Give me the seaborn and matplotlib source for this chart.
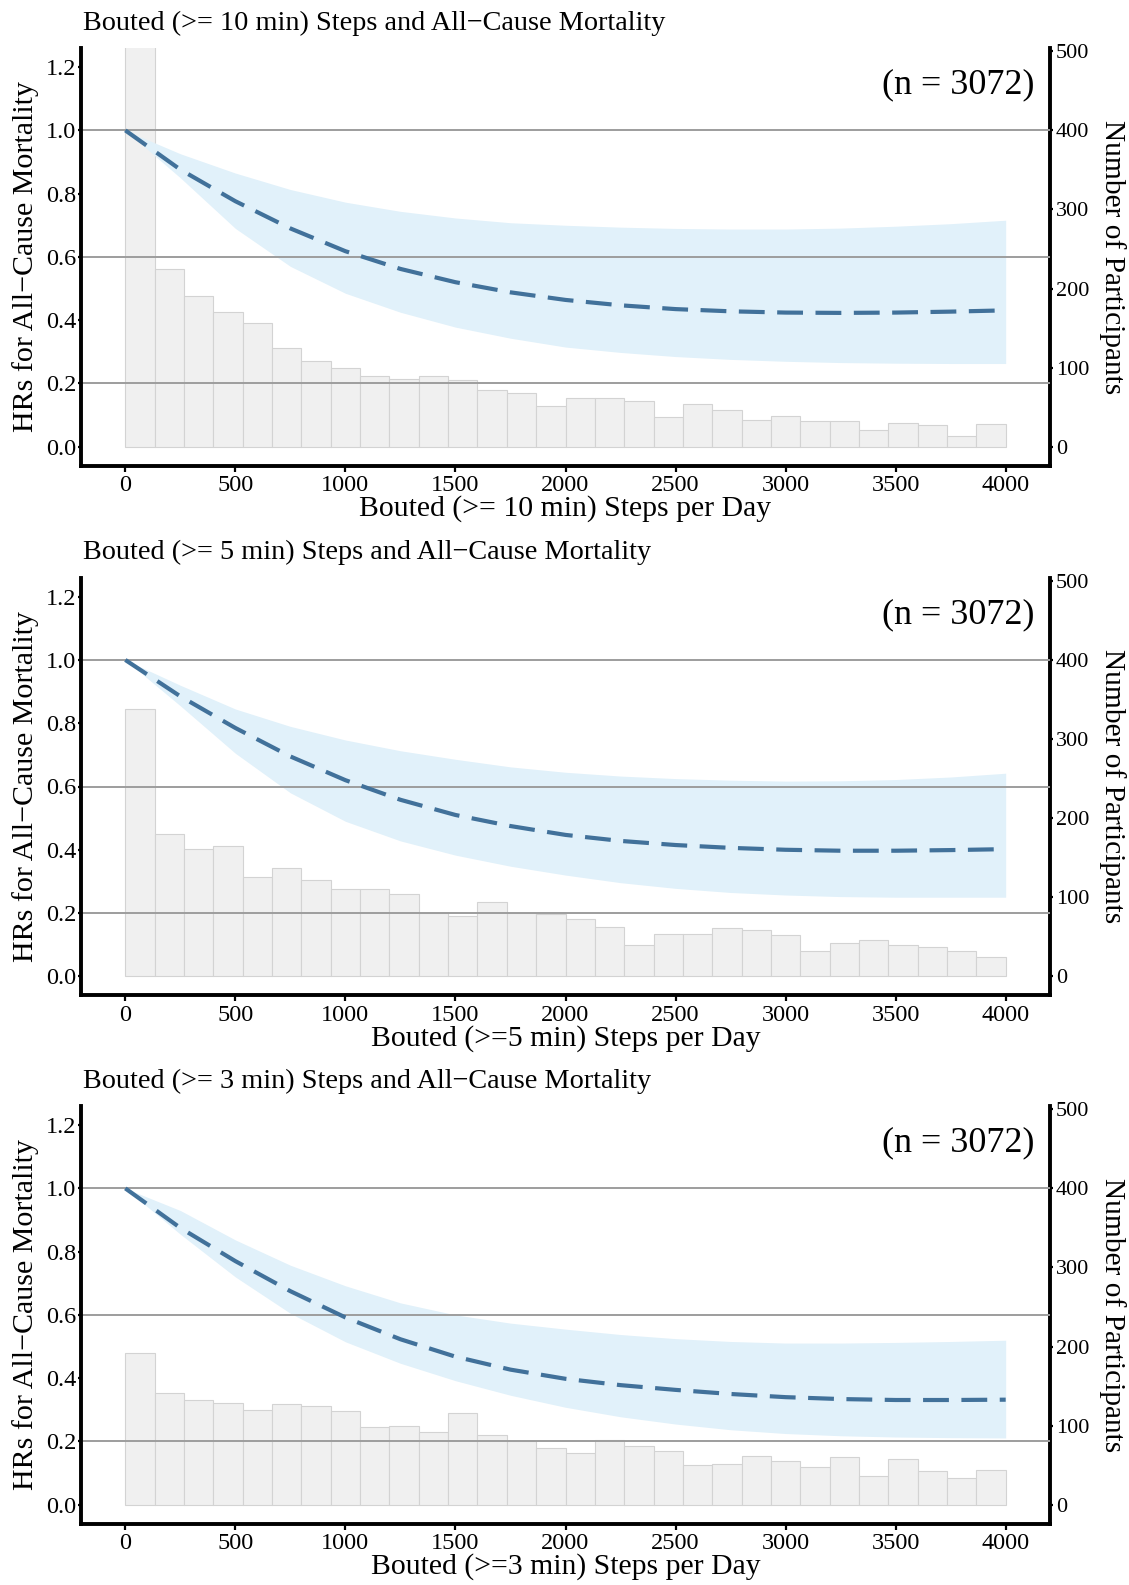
import numpy as np
import pandas as pd
import matplotlib
matplotlib.use("Agg")
import matplotlib.pyplot as plt
from matplotlib.ticker import FormatStrFormatter
import seaborn as sns

# ---------------- data ----------------
steps_grid = [0, 250, 500, 750, 1000, 1250, 1500, 1750, 2000, 2250, 2500,
              2750, 3000, 3250, 3500, 3750, 4000]

hr_10 = [1.0, 0.876, 0.776, 0.69, 0.618, 0.562, 0.52, 0.488, 0.464, 0.447, 0.435,
         0.428, 0.424, 0.423, 0.424, 0.427, 0.431]
up_10 = [1.0, 0.926, 0.865, 0.813, 0.773, 0.744, 0.723, 0.708, 0.70, 0.694, 0.69,
         0.688, 0.688, 0.691, 0.697, 0.705, 0.716]
lo_10 = [1.0, 0.85, 0.69, 0.57, 0.485, 0.425, 0.378, 0.343, 0.315, 0.298, 0.285,
         0.276, 0.27, 0.266, 0.264, 0.263, 0.263]

hr_5 = [1.0, 0.885, 0.785, 0.695, 0.62, 0.558, 0.51, 0.475, 0.447, 0.428, 0.415,
        0.406, 0.40, 0.397, 0.397, 0.399, 0.402]
up_5 = [1.0, 0.92, 0.845, 0.79, 0.747, 0.713, 0.686, 0.662, 0.645, 0.633, 0.625,
        0.62, 0.617, 0.618, 0.622, 0.63, 0.642]
lo_5 = [1.0, 0.855, 0.705, 0.58, 0.49, 0.428, 0.383, 0.348, 0.32, 0.296, 0.278,
        0.265, 0.257, 0.252, 0.25, 0.25, 0.25]

hr_3 = [1.0, 0.875, 0.77, 0.675, 0.592, 0.523, 0.468, 0.427, 0.398, 0.378, 0.363,
        0.35, 0.34, 0.334, 0.331, 0.331, 0.332]
up_3 = [1.0, 0.93, 0.837, 0.757, 0.692, 0.638, 0.60, 0.574, 0.555, 0.538, 0.525,
        0.516, 0.511, 0.511, 0.513, 0.516, 0.52]
lo_3 = [1.0, 0.855, 0.72, 0.605, 0.515, 0.447, 0.392, 0.346, 0.308, 0.278, 0.255,
        0.237, 0.225, 0.218, 0.214, 0.212, 0.211]

counts_10 = [640, 225, 190, 170, 157, 125, 109, 100, 90, 85, 90, 84, 72, 68, 52,
             61, 62, 58, 37, 54, 47, 34, 39, 33, 33, 21, 30, 27, 14, 29]
counts_5 = [338, 180, 161, 165, 125, 137, 122, 111, 111, 104, 80, 76, 94, 80, 79,
            72, 62, 40, 54, 54, 61, 59, 52, 32, 42, 46, 39, 37, 32, 24]
counts_3 = [192, 141, 133, 129, 120, 127, 125, 118, 98, 100, 92, 116, 88, 81, 72,
            66, 82, 74, 68, 50, 52, 62, 55, 48, 60, 36, 58, 42, 34, 44]

titles = ["Bouted (>= 10 min) Steps and All\u2212Cause Mortality",
          "Bouted (>= 5 min) Steps and All\u2212Cause Mortality",
          "Bouted (>= 3 min) Steps and All\u2212Cause Mortality"]
xlabels = ["Bouted (>= 10 min) Steps per Day",
           "Bouted (>=5 min) Steps per Day",
           "Bouted (>=3 min) Steps per Day"]
n_label = "(n = 3072)"
ylabel_left = "HRs for All\u2212Cause Mortality"
ylabel_right = "Number of Participants"
hr_ticks = [0.0, 0.2, 0.4, 0.6, 0.8, 1.0, 1.2]
count_ticks = [0, 100, 200, 300, 400, 500]
step_ticks = [0, 500, 1000, 1500, 2000, 2500, 3000, 3500, 4000]
ref_lines = [0.2, 0.6, 1.0]

panels = [(hr_10, up_10, lo_10, counts_10),
          (hr_5, up_5, lo_5, counts_5),
          (hr_3, up_3, lo_3, counts_3)]

# ---------------- style ----------------
sns.set_theme(style="white")
plt.rcParams["font.family"] = ["Liberation Serif", "DejaVu Serif"]
for k in ["text.color", "axes.labelcolor", "xtick.color", "ytick.color"]:
    plt.rcParams[k] = "black"

W, H = 1129, 1585
fig = plt.figure(figsize=(W / 100, H / 100), dpi=100)

ax_left_px, ax_right_px = 81.3, 1049.7
ax_w_px = ax_right_px - ax_left_px
ax_h_px = 417.6
tops_px = [48.1, 577.7, 1106.1]

n_bins = 30
bin_range = (0, 4000)
bin_w = (bin_range[1] - bin_range[0]) / n_bins
scale = 400.0  # count = HR * 400
spine_lw = 2.8
line_col = "#41719a"
band_col = "#e1f1fa"
ref_col = "#9d9d9d"

for i, (hr, up, lo, counts) in enumerate(panels):
    top = tops_px[i]
    rect = [ax_left_px / W, 1 - (top + ax_h_px) / H, ax_w_px / W, ax_h_px / H]
    ax = fig.add_axes(rect)
    ax2 = ax.twinx()
    ax.set_zorder(ax2.get_zorder() + 1)
    ax.patch.set_visible(False)

    # histogram (right axis): one weighted observation at each bin centre
    hist_df = pd.DataFrame({
        "steps": bin_range[0] + bin_w * (np.arange(n_bins) + 0.5),
        "count": np.asarray(counts, dtype=float),
    })
    sns.histplot(data=hist_df, x="steps", weights="count", bins=n_bins,
                 binrange=bin_range, ax=ax2, color="#f0f0f0",
                 edgecolor="#d3d3d3", linewidth=0.8, alpha=1.0)

    # reference lines, CI band and HR curve (left axis)
    for y in ref_lines:
        ax.axhline(y, color=ref_col, lw=1.4, zorder=2)
    ax.fill_between(steps_grid, lo, up, color=band_col, lw=0, zorder=1.5)
    sns.lineplot(x=steps_grid, y=hr, ax=ax, color=line_col, lw=3.0,
                 linestyle=(0, (6.2, 3.0)), zorder=3)

    ax.set_xlim(-200, 4200)
    ax.set_ylim(-0.06, 1.26)
    ax2.set_ylim(-0.06 * scale, 1.26 * scale)
    ax.set_xticks(step_ticks)
    ax.set_yticks(hr_ticks)
    ax.yaxis.set_major_formatter(FormatStrFormatter("%.1f"))
    ax2.set_yticks(count_ticks)
    ax.set_xlabel("")
    ax.set_ylabel("")
    ax2.set_ylabel("")
    ax2.set_xlabel("")
    ax.grid(False)
    ax2.grid(False)

    for s in ["top", "right"]:
        ax.spines[s].set_visible(False)
    for s in ["left", "bottom"]:
        ax.spines[s].set_linewidth(spine_lw)
        ax.spines[s].set_color("black")
    for s in ["top", "left", "bottom"]:
        ax2.spines[s].set_visible(False)
    ax2.spines["right"].set_linewidth(spine_lw)
    ax2.spines["right"].set_color("black")

    ax.tick_params(axis="x", bottom=True, length=4, width=1.6, pad=3,
                   labelsize=17.5, direction="out")
    ax.tick_params(axis="y", left=True, length=2.5, width=1.6, pad=1,
                   labelsize=17.5, direction="out")
    ax2.tick_params(axis="y", right=True, length=2.5, width=1.6, pad=2,
                    labelsize=16, direction="out")

    # texts
    ax.annotate(titles[i], xy=(0, 1), xycoords="axes fraction",
                xytext=(1.5 * 0.72, 25 * 0.72), textcoords="offset points",
                ha="left", va="center", fontsize=20.3)
    ax.annotate(n_label, xy=(1, 1), xycoords="axes fraction",
                xytext=(-15 * 0.72, -37 * 0.72), textcoords="offset points",
                ha="right", va="center", fontsize=26)
    ax.text(-56 / ax_w_px, 0.5, ylabel_left, transform=ax.transAxes,
            rotation=90, ha="center", va="center", fontsize=21.6)
    ax.text(1 + 63 / ax_w_px, 0.5, ylabel_right, transform=ax.transAxes,
            rotation=270, ha="center", va="center", fontsize=21.2)
    ax.text(0.5, -43 / ax_h_px, xlabels[i], transform=ax.transAxes,
            ha="center", va="center", fontsize=21.4)

fig.savefig("out.png", dpi=100)
